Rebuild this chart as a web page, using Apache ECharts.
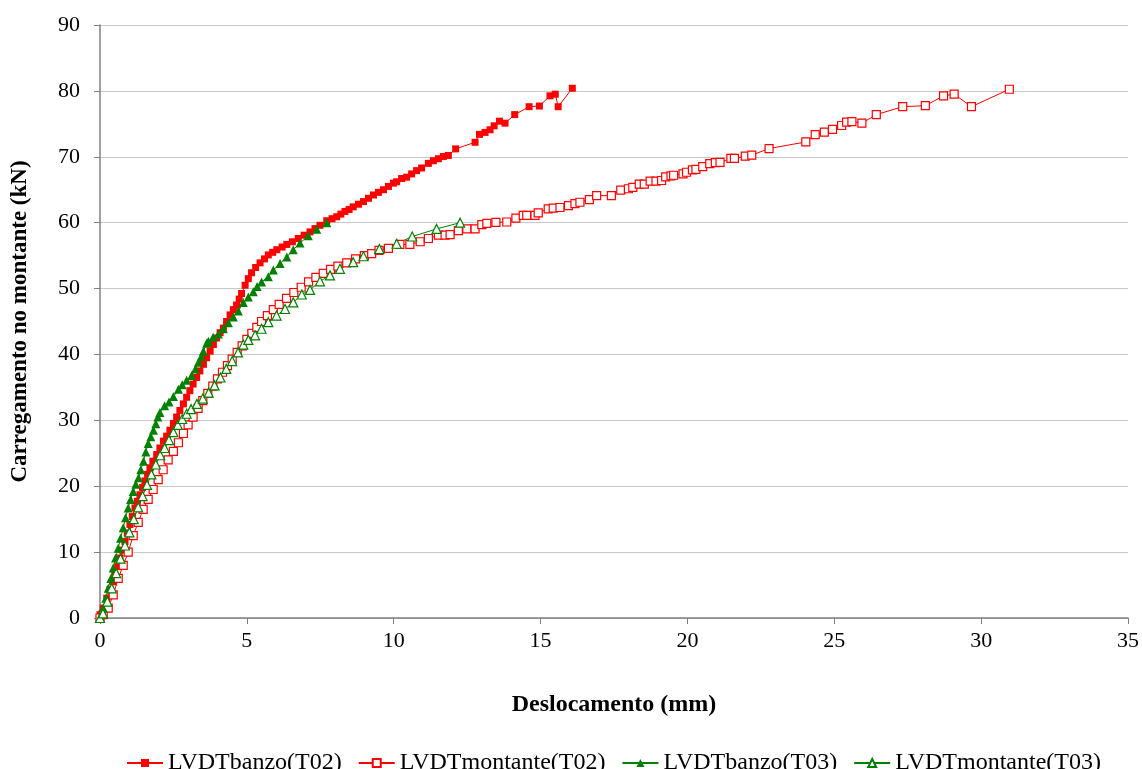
<!DOCTYPE html>
<html>
<head>
<meta charset="utf-8">
<script src="https://cdn.jsdelivr.net/npm/echarts@6/dist/echarts.min.js"></script>
<style>
html,body{margin:0;padding:0;background:#fff;}
#chart{width:1142px;height:769px;}
</style>
</head>
<body>
<div id="chart"></div>
<script>
const seriesNames = ["LVDTbanzo(T02)", "LVDTmontante(T02)", "LVDTbanzo(T03)", "LVDTmontante(T03)"];
const xTicks = [0, 5, 10, 15, 20, 25, 30, 35];
const yTicks = [0, 10, 20, 30, 40, 50, 60, 70, 80, 90];

// LVDTbanzo(T02)
const banzoT02_x = [0,0.11,0.23,0.34,0.45,0.51,0.6,0.68,0.76,0.85,0.93,1.02,1.1,1.19,1.27,1.36,1.45,1.53,1.62,1.7,1.8,1.93,2.04,2.16,2.27,2.38,2.5,2.61,2.72,2.84,2.95,3.06,3.17,3.29,3.4,3.52,3.63,3.75,3.86,3.97,4.09,4.2,4.31,4.43,4.54,4.65,4.74,4.82,4.94,5.05,5.16,5.3,5.45,5.6,5.73,5.88,6.02,6.2,6.36,6.55,6.75,6.95,7.15,7.32,7.49,7.72,7.9,8.06,8.2,8.34,8.48,8.62,8.8,8.97,9.14,9.31,9.48,9.65,9.82,9.99,10.1,10.27,10.44,10.61,10.78,10.95,11.18,11.35,11.52,11.69,11.86,12.11,12.77,12.92,13.11,13.28,13.42,13.6,13.79,14.12,14.61,14.96,15.32,15.5,15.6,16.08];
const banzoT02_y = [0.5,1.5,3,4.3,5.5,6.5,7.8,9.1,10.3,11.6,12.9,14.2,15.4,16.7,17.7,18.7,19.8,20.8,21.8,22.8,23.8,24.8,25.8,26.85,27.6,28.5,29.5,30.5,31.5,32.5,33.5,34.5,35.5,36.5,37.5,38.5,39.5,40.5,41.5,42.5,43.3,44.0,45,46.0,46.8,47.5,48.4,49.25,50.5,51.5,52.4,53.2,53.9,54.5,55.1,55.5,55.9,56.3,56.7,57.1,57.6,58.1,58.6,59.1,59.6,60.3,60.6,60.9,61.3,61.7,62.0,62.4,62.8,63.2,63.7,64.2,64.6,65.0,65.5,66.0,66.2,66.7,66.9,67.4,67.9,68.3,69.0,69.4,69.7,70.05,70.2,71.2,72.2,73.4,73.7,74.1,74.7,75.4,75.1,76.4,77.6,77.7,79.25,79.5,77.6,80.4];

// LVDTmontante(T02)
const montanteT02_x = [0,0.11,0.28,0.45,0.62,0.79,0.96,1.13,1.3,1.47,1.64,1.81,1.98,2.15,2.32,2.5,2.67,2.84,3.0,3.17,3.34,3.5,3.67,3.84,4.0,4.17,4.34,4.5,4.67,4.84,5.0,5.17,5.34,5.5,5.7,5.9,6.1,6.35,6.6,6.85,7.1,7.35,7.6,7.85,8.1,8.4,8.7,9.0,9.25,9.5,9.82,10.21,10.55,10.9,11.18,11.52,11.75,11.92,12.2,12.49,12.77,13.0,13.17,13.48,13.85,14.16,14.41,14.53,14.81,14.92,15.26,15.43,15.66,15.95,16.17,16.34,16.66,16.91,17.41,17.73,17.99,18.14,18.36,18.53,18.73,18.93,19.12,19.26,19.44,19.53,19.85,19.97,20.17,20.29,20.52,20.76,20.95,21.11,21.48,21.6,21.97,22.19,22.78,24.03,24.35,24.66,24.94,25.25,25.42,25.6,25.94,26.43,27.33,28.1,28.72,29.08,29.67,30.96];
const montanteT02_y = [0,0.5,1.5,3.5,6,8,10,12.5,14.5,16.5,18,19.5,21,22.5,24,25.3,26.6,28,29.3,30.5,31.8,33,34.1,35.2,36.3,37.3,38.3,39.3,40.3,41.3,42.3,43.2,44.1,45,45.9,46.8,47.6,48.5,49.4,50.2,51,51.7,52.3,52.9,53.4,53.9,54.5,55,55.3,55.8,56.1,56.7,56.7,57.1,57.6,58.1,58.1,58.2,58.8,59.05,59.05,59.7,59.9,60.05,60.1,60.7,61.1,61.1,61.1,61.5,62.1,62.2,62.3,62.6,62.9,63.1,63.5,64.1,64.1,64.95,65.15,65.35,65.85,65.85,66.3,66.3,66.4,66.95,67.1,67.2,67.4,67.65,68.0,68.1,68.5,68.95,69.1,69.15,69.75,69.75,70.1,70.25,71.25,72.25,73.35,73.75,74.15,74.75,75.25,75.35,75.1,76.4,77.6,77.75,79.25,79.5,77.6,80.25];

// LVDTbanzo(T03)
const banzoT03_x = [0,0.11,0.2,0.28,0.37,0.45,0.53,0.62,0.7,0.79,0.87,0.96,1.04,1.13,1.22,1.31,1.39,1.48,1.56,1.64,1.73,1.82,1.9,1.97,2.04,2.2,2.35,2.5,2.67,2.8,2.95,3.12,3.25,3.35,3.45,3.52,3.63,3.69,3.85,4.03,4.2,4.37,4.54,4.71,4.88,5.05,5.22,5.35,5.5,5.73,5.9,6.13,6.36,6.58,6.81,7.09,7.38,7.72];
const banzoT03_y = [0,1.5,3,4.5,6,7.6,9.1,10.6,12.1,13.7,15.2,16.7,18,19.2,20.3,21.3,22.5,23.8,25.2,26.5,27.5,28.5,29.5,30.5,31.2,32.2,32.8,33.6,34.7,35.4,36.1,36.8,37.8,38.8,39.7,40.5,41.7,42.0,42.6,43.1,43.9,44.8,45.7,46.6,47.9,48.7,49.5,50.3,51.0,51.8,52.8,53.8,54.8,55.9,56.9,58.0,59.0,60.0];

// LVDTmontante(T03)
const montanteT03_x = [0,0.1,0.25,0.4,0.55,0.7,0.85,1.0,1.15,1.3,1.45,1.6,1.75,1.9,2.05,2.2,2.35,2.5,2.65,2.8,2.95,3.1,3.3,3.5,3.7,3.9,4.1,4.3,4.5,4.7,4.88,5.05,5.28,5.5,5.73,6.01,6.3,6.58,6.87,7.15,7.49,7.83,8.17,8.62,8.97,9.51,10.1,10.63,11.46,12.26];
const montanteT03_y = [0,0.7,2.5,4.5,6.8,9,11,13,15,16.8,18.5,20.2,21.8,23.3,24.7,25.8,27,28.2,29.3,30.2,31,31.7,32.5,33.3,34.2,35.3,36.5,37.8,39,40.3,41.5,42.2,42.9,43.9,44.9,45.9,46.9,47.9,49.1,49.8,51.1,52,53,54,54.9,56,56.8,57.9,59.05,60.0];

function pairs(xs, ys) { return xs.map((x, i) => [x, ys[i]]); }

const RED = '#FF0000', GREEN = '#008000';
const FONT = "'Liberation Serif', 'Times New Roman', serif";

const chart = echarts.init(document.getElementById('chart'), null, {renderer: 'canvas'});
chart.setOption({
  animation: false,
  backgroundColor: '#ffffff',
  textStyle: {fontFamily: FONT, color: '#000'},
  grid: {left: 100, right: 14, top: 25, bottom: 151, containLabel: false},
  legend: {
    top: 746,
    left: 121,
    itemWidth: 36,
    itemHeight: 10,
    itemGap: 16,
    textStyle: {fontFamily: FONT, fontSize: 24, color: '#000'},
    data: seriesNames
  },
  xAxis: {
    type: 'value',
    min: xTicks[0], max: xTicks[xTicks.length - 1], interval: 5,
    name: 'Deslocamento (mm)',
    nameLocation: 'middle',
    nameGap: 75,
    nameTextStyle: {fontFamily: FONT, fontSize: 24, fontWeight: 'bold', color: '#000'},
    axisLine: {onZero: false, lineStyle: {color: '#808080', width: 1.5}},
    axisTick: {show: true, inside: false, length: 6, lineStyle: {color: '#808080'}},
    axisLabel: {fontFamily: FONT, fontSize: 22, color: '#000', margin: 12},
    splitLine: {show: false}
  },
  yAxis: {
    type: 'value',
    min: yTicks[0], max: yTicks[yTicks.length - 1], interval: 10,
    name: 'Carregamento no montante (kN)',
    nameLocation: 'middle',
    nameGap: 68,
    nameTextStyle: {fontFamily: FONT, fontSize: 23, fontWeight: 'bold', color: '#000'},
    axisLine: {show: true, onZero: false, lineStyle: {color: '#808080', width: 1.5}},
    axisTick: {show: true, inside: false, length: 6, lineStyle: {color: '#808080'}},
    axisLabel: {fontFamily: FONT, fontSize: 22, color: '#000', margin: 20},
    splitLine: {show: true, lineStyle: {color: '#c8c8c8', width: 1}}
  },
  series: [
    {
      name: seriesNames[0], type: 'line', data: pairs(banzoT02_x, banzoT02_y),
      symbol: 'rect', symbolSize: 7,
      lineStyle: {color: RED, width: 1},
      itemStyle: {color: RED, borderColor: RED, borderWidth: 0}
    },
    {
      name: seriesNames[1], type: 'line', data: pairs(montanteT02_x, montanteT02_y),
      symbol: 'rect', symbolSize: 8,
      lineStyle: {color: RED, width: 1},
      itemStyle: {color: '#ffffff', borderColor: RED, borderWidth: 1.2}
    },
    {
      name: seriesNames[2], type: 'line', data: pairs(banzoT03_x, banzoT03_y),
      symbol: 'triangle', symbolSize: 9,
      lineStyle: {color: GREEN, width: 1},
      itemStyle: {color: GREEN, borderColor: GREEN, borderWidth: 0}
    },
    {
      name: seriesNames[3], type: 'line', data: pairs(montanteT03_x, montanteT03_y),
      symbol: 'triangle', symbolSize: 9,
      lineStyle: {color: GREEN, width: 1},
      itemStyle: {color: '#ffffff', borderColor: GREEN, borderWidth: 1.2}
    }
  ]
});
</script>
</body>
</html>
